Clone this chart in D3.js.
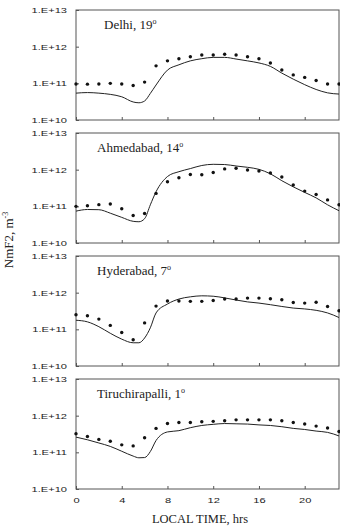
<!DOCTYPE html>
<html>
<head>
<meta charset="utf-8">
<script src="https://cdn.jsdelivr.net/npm/d3@7"></script>
<style>
  body { margin: 0; background: #fff; }
</style>
</head>
<body>
<div id="chart"></div>
<script>
const width = 340,
    height = 531,
    margin = ({ top: 10, left: 76, right: 1 }),
    panelH = 110,
    panelGap = 13;

// hours of the observed points and of the model curve
const obsHours = [0, 1, 2, 3, 4, 5, 6, 7, 8, 9, 10, 11, 12, 13, 14, 15, 16, 17, 18, 19, 20, 21, 22, 23];
const modelHours = [0, 1, 2, 3, 4, 5, 5.5, 6, 6.5, 7, 8, 9, 10, 11, 12, 13, 14, 15, 16, 17, 18, 19, 20, 21, 22, 23];

const stations = ["Delhi", "Ahmedabad", "Hyderabad", "Tiruchirapalli"];
const latitudes = [19, 14, 7, 1];

const delhiObs = [0.96e11, 0.95e11, 0.96e11, 1.0e11, 0.96e11, 0.87e11, 1.08e11, 3.0e11, 4.1e11, 4.7e11, 5.3e11, 5.9e11,
    5.9e11, 6.2e11, 5.9e11, 5.3e11, 4.7e11, 3.6e11, 2.3e11, 1.7e11, 1.45e11, 1.2e11, 0.96e11, 0.96e11];
const delhiModel = [5.4e10, 5.6e10, 5.4e10, 5.0e10, 4.3e10, 3.1e10, 2.95e10, 3.3e10, 5.3e10, 9.0e10, 2.3e11, 3.2e11, 4.1e11,
    4.7e11, 5.1e11, 5.1e11, 4.6e11, 4.1e11, 3.6e11, 2.9e11, 1.9e11, 1.3e11, 9.2e10, 6.8e10, 5.5e10, 5.1e10];

const ahmedabadObs = [1.0e11, 1.04e11, 1.11e11, 1.16e11, 8.6e10, 5.6e10, 6.4e10, 2.25e11, 4.7e11, 6.0e11, 7.4e11, 7.3e11,
    8.4e11, 1.05e12, 1.09e12, 0.98e12, 0.92e12, 8.1e11, 6.3e11, 3.8e11, 2.6e11, 2.1e11, 1.5e11, 1.1e11];
const ahmedabadModel = [7.4e10, 8.2e10, 8.1e10, 6.5e10, 5.0e10, 3.9e10, 3.8e10, 4.6e10, 1.1e11, 2.5e11, 6.5e11, 8.8e11, 1.07e12,
    1.3e12, 1.4e12, 1.38e12, 1.26e12, 1.16e12, 1.02e12, 7.7e11, 5.0e11, 3.4e11, 2.4e11, 1.7e11, 1.1e11, 7.6e10];

const hyderabadObs = [2.5e11, 2.35e11, 1.9e11, 1.28e11, 8.2e10, 5.2e10, 1.5e11, 4.3e11, 5.9e11, 5.9e11, 5.8e11, 5.8e11,
    6.1e11, 6.7e11, 6.7e11, 7.1e11, 7.1e11, 6.8e11, 6.4e11, 5.4e11, 5.2e11, 5.5e11, 4.2e11, 3.2e11];
const hyderabadModel = [1.77e11, 1.6e11, 1.18e11, 7.8e10, 5.4e10, 4.3e10, 4.3e10, 5.8e10, 1.1e11, 2.8e11, 4.9e11, 6.7e11, 7.7e11,
    8.2e11, 8.0e11, 7.2e11, 6.3e11, 5.6e11, 5.2e11, 4.7e11, 4.2e11, 3.8e11, 3.6e11, 3.3e11, 2.8e11, 2.1e11];

const tiruchirapalliObs = [3.2e11, 2.7e11, 2.25e11, 2.0e11, 1.6e11, 1.5e11, 2.5e11, 4.5e11, 6.1e11, 6.5e11, 6.5e11, 6.8e11,
    7.0e11, 7.3e11, 7.7e11, 7.7e11, 7.7e11, 7.7e11, 7.3e11, 6.5e11, 5.9e11, 5.2e11, 4.6e11, 3.7e11];
const tiruchirapalliModel = [2.6e11, 2.2e11, 1.8e11, 1.45e11, 1.07e11, 7.9e10, 7.1e10, 7.2e10, 1.05e11, 2.1e11, 3.6e11, 3.9e11, 4.7e11,
    5.4e11, 5.8e11, 6.1e11, 6.0e11, 5.9e11, 5.6e11, 5.4e11, 5.0e11, 4.5e11, 4.2e11, 3.8e11, 3.5e11, 2.8e11];

const observed = [delhiObs, ahmedabadObs, hyderabadObs, tiruchirapalliObs];
const modelled = [delhiModel, ahmedabadModel, hyderabadModel, tiruchirapalliModel];

const yTicks = [1e10, 1e11, 1e12, 1e13];
const xTicks = [0, 4, 8, 12, 16, 20];

const svg = d3.select("#chart")
    .append("svg")
    .attr("width", width)
    .attr("height", height)
    .attr("viewBox", [0, 0, width, height]);

const x = d3.scaleLinear()
    .domain([0, 23])
    .range([margin.left, width - margin.right]);

// tick labels in the original are short and wide
const tickStretch = 1.5;
const line = d3.line().curve(d3.curveMonotoneX);

stations.forEach((name, i) => {
    const top = margin.top + i * (panelH + panelGap);
    const y = d3.scaleLog()
        .domain([1e10, 1e13])
        .range([top + panelH, top]);

    const g = svg.append("g");

    // y axis, labels like 1.E+12
    const ya = g.append("g")
        .attr("transform", `translate(${margin.left},0)`)
        .call(d3.axisLeft(y).tickValues(yTicks).tickSize(-3)
            .tickFormat(d => "1.E+" + Math.round(Math.log10(d))));
    ya.select(".domain").remove();
    ya.selectAll("line").attr("stroke", "#555");
    ya.selectAll("text")
        .attr("font-family", "'Liberation Sans', Arial, sans-serif")
        .attr("font-size", 7.4)
        .attr("fill", "#222")
        .attr("x", -9 / tickStretch)
        .attr("transform", `scale(${tickStretch},1)`);

    // x axis with inward ticks, labels only on the bottom panel
    const xa = g.append("g")
        .attr("transform", `translate(0,${top + panelH})`)
        .call(d3.axisBottom(x).tickValues(xTicks).tickSize(-3).tickPadding(9));
    xa.select(".domain").remove();
    xa.selectAll("line").attr("stroke", "#555");
    if (i < stations.length - 1) {
        xa.selectAll("text").remove();
    } else {
        xa.selectAll("text")
            .attr("font-family", "'Liberation Sans', Arial, sans-serif")
            .attr("font-size", 7.4)
            .attr("fill", "#222")
            .attr("transform", `scale(${tickStretch},1)`);
    }

    // frame
    g.append("rect")
        .attr("x", margin.left)
        .attr("y", top)
        .attr("width", width - margin.right - margin.left)
        .attr("height", panelH)
        .attr("fill", "none")
        .attr("stroke", "#555")
        .attr("stroke-width", 1);

    // model curve
    g.append("path")
        .attr("d", line(modelHours.map((h, k) => [x(h), y(modelled[i][k])])))
        .attr("fill", "none")
        .attr("stroke", "#222")
        .attr("stroke-width", 1);

    // observed points
    g.selectAll(null)
        .data(obsHours)
        .enter()
        .append("circle")
        .attr("cx", h => x(h))
        .attr("cy", (h, k) => y(observed[i][k]))
        .attr("r", 1.7)
        .attr("fill", "#111");

    // station name and latitude
    const t = g.append("text")
        .attr("x", margin.left + (i === 0 ? 28 : 21))
        .attr("y", top + 19)
        .attr("font-family", "'Liberation Serif', 'Times New Roman', serif")
        .attr("font-size", 13)
        .attr("fill", "#222")
        .text(name + ", " + latitudes[i]);
    t.append("tspan")
        .attr("dy", -5)
        .attr("font-size", 8)
        .text("o");
});

// axis titles
svg.append("text")
    .attr("x", 200)
    .attr("y", 523)
    .attr("text-anchor", "middle")
    .attr("font-family", "'Liberation Serif', 'Times New Roman', serif")
    .attr("font-size", 12.5)
    .attr("fill", "#222")
    .text("LOCAL TIME, hrs");

const yl = svg.append("text")
    .attr("transform", "translate(13,240) rotate(-90)")
    .attr("text-anchor", "middle")
    .attr("font-family", "'Liberation Serif', 'Times New Roman', serif")
    .attr("font-size", 13)
    .attr("fill", "#222")
    .text("NmF2, m");
yl.append("tspan")
    .attr("dy", -5)
    .attr("font-size", 8)
    .text("-3");
</script>
</body>
</html>
